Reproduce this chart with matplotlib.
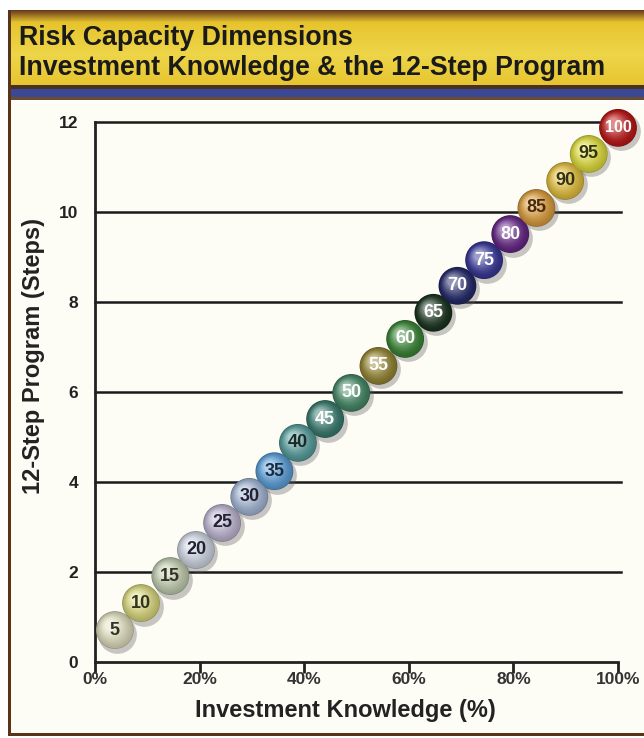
import numpy as np
import matplotlib
matplotlib.use("Agg")
import matplotlib.pyplot as plt
from matplotlib.patches import Rectangle
from matplotlib.colors import to_rgb
import matplotlib.transforms as mtransforms

plt.rcParams['font.family'] = ['Liberation Sans', 'DejaVu Sans']

# data
labels = ['5', '10', '15', '20', '25', '30', '35', '40', '45', '50',
          '55', '60', '65', '70', '75', '80', '85', '90', '95', '100']
knowledge = [3.8, 8.8, 14.4, 19.3, 24.3, 29.5, 34.3, 38.8, 44.0, 49.0,
             54.2, 59.3, 64.7, 69.3, 74.4, 79.4, 84.4, 89.9, 94.4, 100.0]
steps = [0.71, 1.31, 1.91, 2.49, 3.09, 3.67, 4.24, 4.87, 5.40, 5.98,
         6.58, 7.18, 7.76, 8.36, 8.93, 9.51, 10.09, 10.69, 11.29, 11.87]
ball_colors = ['#e4e2c2', '#dedc80', '#c4d0b2', '#d2d9e6', '#c2bad6',
               '#a6bad8', '#5ea2dc', '#5aa0a0', '#3b7d70', '#468a66',
               '#978836', '#3c8838', '#1c3620', '#252c6c', '#38389a',
               '#682888', '#dea040', '#e6c23e', '#e2e03e', '#c01818']
text_colors = ['#333322', '#333322', '#333322', '#222233', '#222233',
               '#222233', '#1a2a40', '#1a2a2a', 'white', 'white',
               'white', 'white', 'white', 'white', 'white',
               'white', '#4a2a08', '#333311', '#333311', 'white']
yticks = [0, 2, 4, 6, 8, 10, 12]
xticks = [0, 20, 40, 60, 80, 100]

fig = plt.figure(figsize=(6.44, 7.38), dpi=100)
W, H = 644, 738

def prect(x0, y0, x1, y1, color):
    # rectangle in pixel coords (origin top-left), behind the axes
    fig.patches.append(Rectangle((x0 / W, 1 - y1 / H), (x1 - x0) / W, (y1 - y0) / H,
                                 transform=fig.transFigure, color=color, zorder=-5, lw=0))

fig.patch.set_facecolor('white')
prect(8, 10, 644, 736, '#5a3418')
prect(11, 13, 644, 733, '#fdfcf5')
# title band gradient
top = np.array(to_rgb('#6a3c1c'))
yel1 = np.array(to_rgb('#e6c42e'))
yel2 = np.array(to_rgb('#f2e05a'))
for i in range(13):
    prect(11, 10 + i, 644, 11 + i, top + (yel1 - top) * i / 12)
for i in range(63):
    t = i / 62
    prect(11, 23 + i, 644, 24 + i, yel1 + (yel2 - yel1) * (0.5 - abs(t - 0.5)) * 1.2)
prect(11, 85, 644, 89, '#4a3020')
prect(11, 89, 644, 97, '#3a4896')
prect(11, 97, 644, 100, '#6a4a30')

fig.text(19 / W, 1 - 38 / H, 'Risk Capacity Dimensions', fontsize=19.3, fontweight='bold',
         color='#1a1a1a', va='center', ha='left')
fig.text(19 / W, 1 - 68 / H, 'Investment Knowledge & the 12-Step Program', fontsize=19.3,
         fontweight='bold', color='#1a1a1a', va='center', ha='left')

ax = fig.add_axes([95 / W, 1 - 662 / H, (618 - 95) / W, (662 - 122) / H])
ax.set_zorder(2)
ax.set_facecolor('none')
ax.set_xlim(0, 100)
ax.set_ylim(0, 12)
for s in ['top', 'right']:
    ax.spines[s].set_visible(False)
for s in ['left', 'bottom']:
    ax.spines[s].set_linewidth(2)
    ax.spines[s].set_color('#222222')
for y in yticks[1:]:
    ax.axhline(y, xmax=1.005, color='#1a1a1a', lw=1.8, zorder=1, clip_on=False)

ax.set_yticks(yticks)
ax.set_yticklabels([str(v) for v in yticks], fontsize=12.5, fontweight='bold', color='#222222')
ax.set_xticks(xticks)
ax.set_xticklabels(['%d%%' % v for v in xticks], fontsize=12.5, fontweight='bold', color='#333333')
ax.tick_params(axis='y', length=0, pad=12)
ax.tick_params(axis='x', length=8, width=2, color='#222222', pad=-1)
ax.set_xlabel('Investment Knowledge (%)', fontsize=17, fontweight='bold', color='#222222', va='center')
ax.xaxis.set_label_coords(0.478, -0.089)
ax.set_ylabel('12-Step Program (Steps)', fontsize=17, fontweight='bold', color='#222222', va='center')
ax.yaxis.set_label_coords(-0.1185, 0.567)

# balls
size = 740
shadow_tr = mtransforms.offset_copy(ax.transData, fig=fig, x=2.5, y=-3.5, units='dots')
ax.scatter(knowledge, steps, s=size * 1.05, color='#606060', alpha=0.35, lw=0,
           transform=shadow_tr, zorder=3, clip_on=False)
base = [np.array(to_rgb(c)) for c in ball_colors]
ax.scatter(knowledge, steps, s=size, color=[b * 0.65 for b in base], lw=0, zorder=4, clip_on=False)
n = 9
for k in range(n):
    t = k / (n - 1)
    tr = mtransforms.offset_copy(ax.transData, fig=fig, x=-4.5 * t, y=4.5 * t, units='dots')
    cols = [np.clip(b * (0.78 + 0.22 * t) + (1 - b) * 0.5 * t ** 2, 0, 1) for b in base]
    ax.scatter(knowledge, steps, s=size * (1 - 0.85 * t) ** 1.2 * 0.93, color=cols, lw=0,
               transform=tr, zorder=5 + k * 0.01, clip_on=False)

for x, y, lab, tc in zip(knowledge, steps, labels, text_colors):
    ax.text(x, y, lab, ha='center', va='center', fontsize=11.5 if len(lab) == 3 else 13,
            fontweight='bold', color=tc, zorder=7, clip_on=False)

fig.savefig('out.png', dpi=100)
